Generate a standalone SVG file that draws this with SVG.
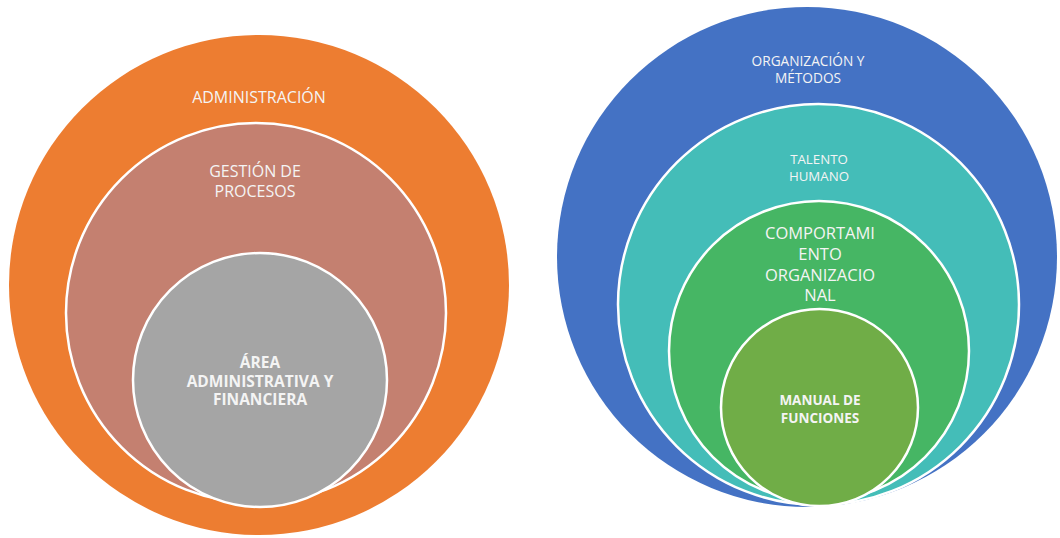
<svg xmlns="http://www.w3.org/2000/svg" width="1060" height="538" viewBox="0 0 1060 538">
  <style>
    .ring { stroke: #ffffff; stroke-width: 2.5; }
    .lbl { font-family: "Open Sans", "Liberation Sans", sans-serif; fill: #f4f4f4; text-anchor: middle; }
    .bold { font-weight: 700; }
  </style>
  <rect width="1060" height="538" fill="#ffffff"/>

  <!-- Left set of nested circles -->
  <g id="administracion">
    <circle cx="259" cy="285" r="250" fill="#ed7d31"/>
    <text class="lbl" x="259" y="103" font-size="16">ADMINISTRACIÓN</text>
  </g>
  <g id="gestion-procesos">
    <circle class="ring" cx="256" cy="313" r="190" fill="#c48070"/>
    <text class="lbl" font-size="16"><tspan x="255" y="177">GESTIÓN DE</tspan><tspan x="255" y="197">PROCESOS</tspan></text>
  </g>
  <g id="area-administrativa">
    <circle class="ring" cx="260" cy="380" r="127" fill="#a5a5a5"/>
    <text class="lbl bold" font-size="15.5"><tspan x="260" y="368">ÁREA</tspan><tspan x="260" y="387">ADMINISTRATIVA Y</tspan><tspan x="260" y="405">FINANCIERA</tspan></text>
  </g>

  <!-- Right set of nested circles -->
  <g id="organizacion-metodos">
    <circle cx="807" cy="257" r="250" fill="#4472c4"/>
    <text class="lbl" font-size="13.7"><tspan x="808" y="66">ORGANIZACIÓN Y</tspan><tspan x="808" y="83">MÉTODOS</tspan></text>
  </g>
  <g id="talento-humano">
    <circle class="ring" cx="818.5" cy="304.5" r="200.5" fill="#44bdb8"/>
    <text class="lbl" font-size="13.3"><tspan x="819" y="164">TALENTO</tspan><tspan x="819" y="181">HUMANO</tspan></text>
  </g>
  <g id="comportamiento-organizacional">
    <circle class="ring" cx="819" cy="351" r="150" fill="#46b664"/>
    <text class="lbl" font-size="16.5"><tspan x="820" y="239">COMPORTAMI</tspan><tspan x="820" y="260">ENTO</tspan><tspan x="820" y="281">ORGANIZACIO</tspan><tspan x="820" y="301">NAL</tspan></text>
  </g>
  <g id="manual-funciones">
    <circle class="ring" cx="819.5" cy="407.5" r="98.5" fill="#70ad47"/>
    <text class="lbl bold" font-size="13.5"><tspan x="820" y="405">MANUAL DE</tspan><tspan x="820" y="423">FUNCIONES</tspan></text>
  </g>

  <g id="connectors"/>
</svg>
